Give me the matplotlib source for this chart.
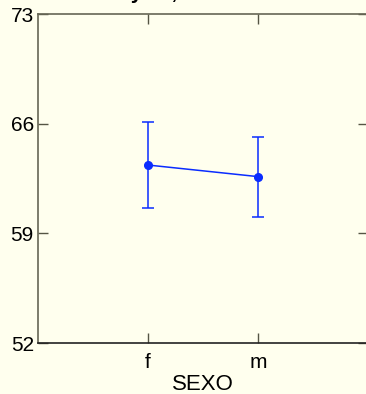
import numpy as np
import matplotlib.pyplot as plt

plt.rcParams['font.family'] = ['Liberation Sans', 'DejaVu Sans']

# datos
grupos = ['f', 'm']
medias = [63.36, 62.62]
inferior = [60.6, 60.06]
superior = [66.13, 65.17]
yticks = [52, 59, 66, 73]

bg = '#ffffee'
azul = '#0a2cff'

fig = plt.figure(figsize=(3.66, 3.94), dpi=100, facecolor=bg)
ax = fig.add_axes([38 / 366, 1 - 343 / 394, 330 / 366, 329 / 394], facecolor=bg)

x = np.arange(1, len(grupos) + 1)
med = np.array(medias)
err = [med - np.array(inferior), np.array(superior) - med]
ax.errorbar(x, med, yerr=err, color=azul, lw=1.1, marker='o', ms=5.5,
            capsize=4, capthick=1.1, elinewidth=1.1)

ax.set_xlim(0, 3)
ax.set_ylim(52, 73)
ax.set_xticks(x)
ax.set_xticklabels(grupos)
ax.set_yticks(yticks)
ax.tick_params(direction='in', length=7, width=1, colors='#555544',
               labelcolor='black', labelsize=15, pad=3,
               top=True, right=True)
ax.tick_params(axis='x', pad=7.5)
ax.set_xlabel('SEXO', fontsize=16, labelpad=1)
for s in ax.spines.values():
    s.set_color('#666655')
    s.set_linewidth(1.2)
ax.spines['bottom'].set_color('#222222')

# título, casi todo fuera del recorte
fig.text(0.557, 1.003, 'Medias y 95,0% de Fisher LSD', ha='center', va='baseline',
         fontsize=15, fontweight='bold')

fig.savefig('out.png', dpi=100, facecolor=bg)
